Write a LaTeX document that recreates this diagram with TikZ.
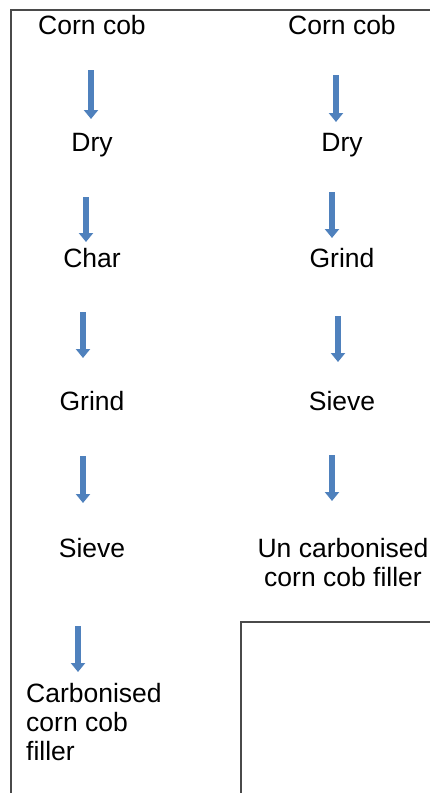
\documentclass[tikz,border=0pt]{standalone}
\usepackage{fontspec}
\setmainfont{Liberation Sans}
\usetikzlibrary{arrows.meta}
\definecolor{arrowblue}{HTML}{4F81BD}
\definecolor{framegray}{HTML}{4A4A4A}
\tikzset{
  lbl/.style={anchor=base, inner sep=0pt, font=\fontsize{26.5}{29}\selectfont},
  lblblock/.style={anchor=base west, inner sep=0pt, align=left, font=\fontsize{26.5}{29}\selectfont},
  lblblockc/.style={anchor=base, inner sep=0pt, align=center, font=\fontsize{26.5}{29}\selectfont},
  flow/.style={draw=arrowblue, line width=5.5pt, -{Triangle[width=14pt,length=9pt]}},
  frame/.style={draw=framegray, line width=1.5pt}
}
\begin{document}
\begin{tikzpicture}[x=1pt,y=-1pt]
\useasboundingbox (0,0) rectangle (430,793);
% frame
\coordinate (f1) at (11,793);
\coordinate (f2) at (11,10);
\coordinate (f3) at (430,10);
\draw[frame] (f1) -- (f2) -- (f3);
\coordinate (b1) at (241,793);
\coordinate (b2) at (241,622);
\coordinate (b3) at (430,622);
\draw[frame] (b1) -- (b2) -- (b3);
% left column
\node[lbl] (l1) at (92,34) {Corn cob};
\node[lbl] (l2) at (92,151) {Dry};
\node[lbl] (l3) at (92,267) {Char};
\node[lbl] (l4) at (92,410) {Grind};
\node[lbl] (l5) at (92,557) {Sieve};
\node[lblblock] (l6) at (26,760) {Carbonised\\corn cob\\filler};
% right column
\node[lbl] (r1) at (342,34) {Corn cob};
\node[lbl] (r2) at (342,151) {Dry};
\node[lbl] (r3) at (342,267) {Grind};
\node[lbl] (r4) at (342,410) {Sieve};
\node[lblblockc] (r5) at (343,586) {Un carbonised\\corn cob filler};
% arrows left
\coordinate (la1) at (91,70);  \coordinate (lb1) at (91,119);
\coordinate (la2) at (86,197); \coordinate (lb2) at (86,242);
\coordinate (la3) at (83,312); \coordinate (lb3) at (83,358);
\coordinate (la4) at (83,456); \coordinate (lb4) at (83,503);
\coordinate (la5) at (78,626); \coordinate (lb5) at (78,672);
\draw[flow] (la1) -- (lb1);
\draw[flow] (la2) -- (lb2);
\draw[flow] (la3) -- (lb3);
\draw[flow] (la4) -- (lb4);
\draw[flow] (la5) -- (lb5);
% arrows right
\coordinate (ra1) at (336,75);  \coordinate (rb1) at (336,122);
\coordinate (ra2) at (332,192); \coordinate (rb2) at (332,238);
\coordinate (ra3) at (338,316); \coordinate (rb3) at (338,362);
\coordinate (ra4) at (332,455); \coordinate (rb4) at (332,501);
\draw[flow] (ra1) -- (rb1);
\draw[flow] (ra2) -- (rb2);
\draw[flow] (ra3) -- (rb3);
\draw[flow] (ra4) -- (rb4);
\end{tikzpicture}
\end{document}
